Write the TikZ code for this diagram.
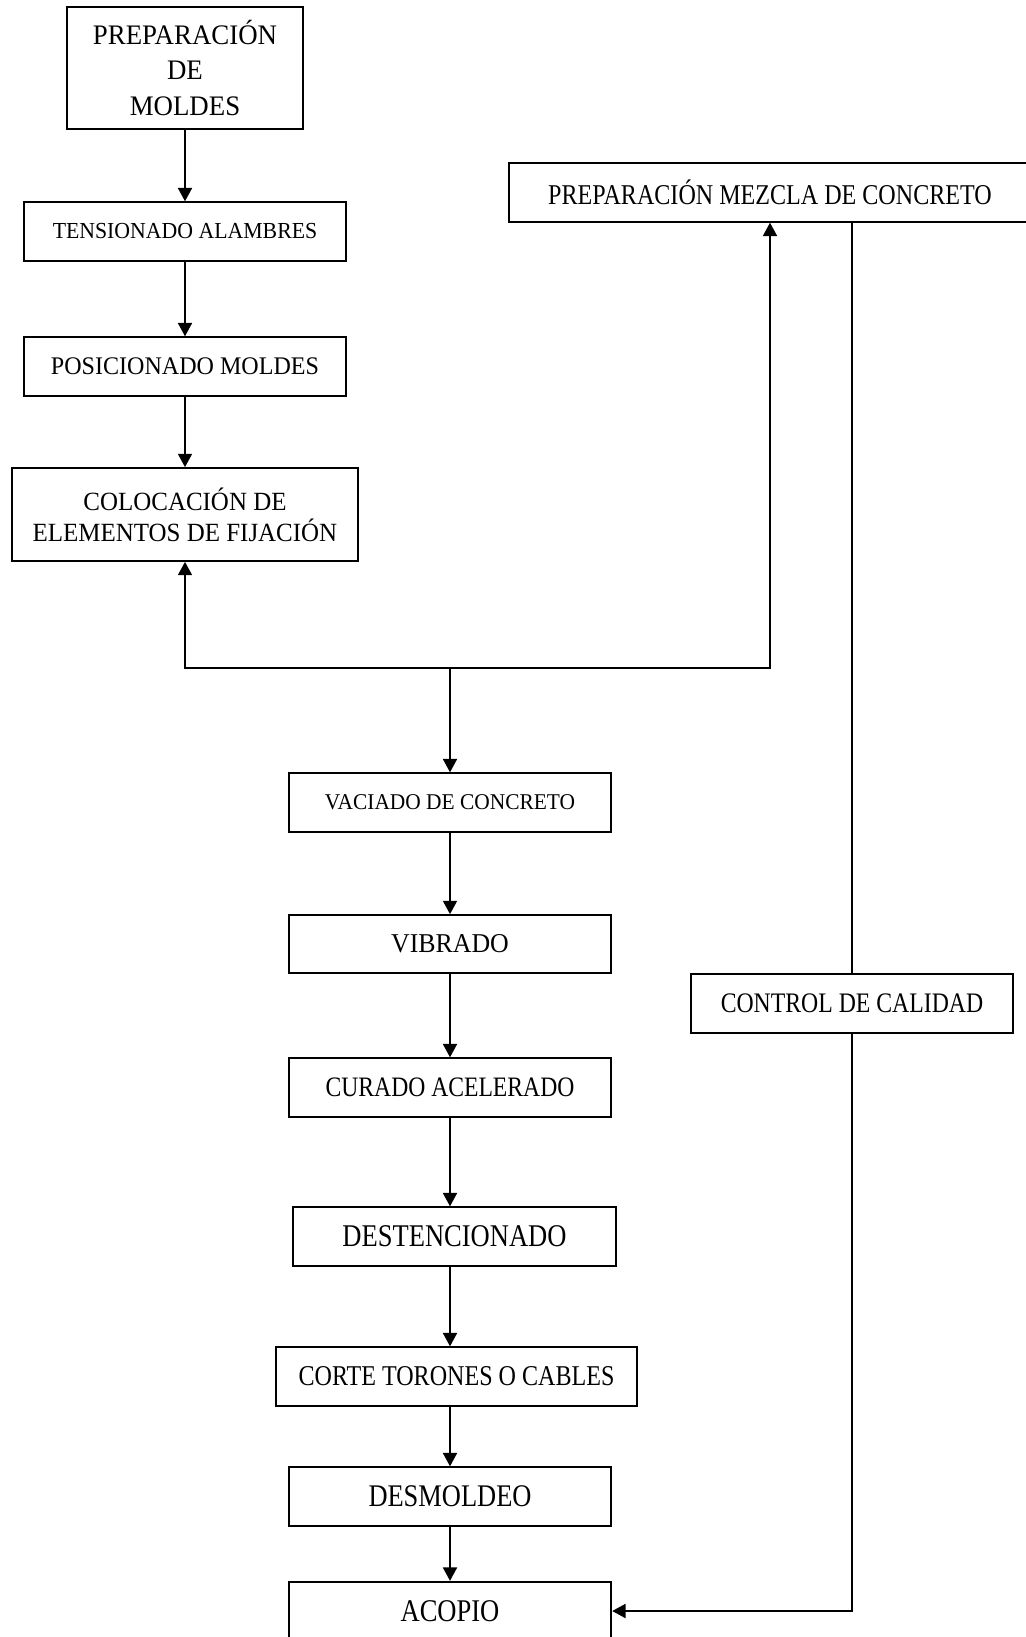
\documentclass[tikz,border=0pt]{standalone}
\usepackage{fontspec}
\setmainfont[FakeStretch=0.95]{Liberation Serif}
\newfontfamily\estrecha[FakeStretch=0.84]{Liberation Serif}
\usepackage{tikz}
\usetikzlibrary{arrows.meta,calc}

\tikzset{
  caja/.style={draw,line width=1.3pt,align=center,inner sep=0pt,
    minimum width=242pt,minimum height=44pt},
  flecha/.style={-{Triangle[width=10.5pt,length=10pt]},line width=1.3pt},
  linea/.style={line width=1.3pt}
}

\begin{document}
\begin{tikzpicture}[x=0.75pt,y=-0.75pt]
  \useasboundingbox (0,0) rectangle (1025,1637);
  % columna izquierda
  \node[caja,minimum width=177pt,minimum height=91.5pt,font=\fontsize{21.2}{26.3}\selectfont]
    (moldes) at (185,68) {PREPARACIÓN\\DE\\MOLDES};
  \node[caja,font=\fontsize{17.2}{21}\selectfont] (tension) at (185,231.5) {TENSIONADO ALAMBRES};
  \node[caja,font=\fontsize{19}{23}\selectfont] (posicion) at (185,366.5) {POSICIONADO MOLDES};
  \node[caja,minimum width=260pt,minimum height=69.75pt,font=\fontsize{19.7}{23.3}\selectfont]
    (fijacion) at (185,514.5) {COLOCACIÓN DE\\ELEMENTOS DE FIJACIÓN};
  % mezcla y control
  \node[caja,minimum width=391.5pt,font=\estrecha\fontsize{21.5}{26}\selectfont]
    (mezcla) at (770,192.5) {PREPARACIÓN MEZCLA DE CONCRETO};
  \node[caja,font=\estrecha\fontsize{21.2}{26}\selectfont] (control) at (852,1003.5) {CONTROL DE CALIDAD};
  % columna central
  \node[caja,font=\fontsize{16.9}{21}\selectfont] (vaciado) at (450,802.5) {VACIADO DE CONCRETO};
  \node[caja,minimum height=43.5pt,font=\fontsize{20.4}{25}\selectfont] (vibrado) at (450,944) {VIBRADO};
  \node[caja,font=\estrecha\fontsize{21.1}{26}\selectfont] (curado) at (450,1087.5) {CURADO ACELERADO};
  \node[caja,font=\estrecha\fontsize{23.7}{28}\selectfont] (destension) at (454.5,1236.5) {DESTENCIONADO};
  \node[caja,minimum width=270.75pt,font=\estrecha\fontsize{21.5}{26}\selectfont] (corte) at (456.5,1376.5) {CORTE TORONES O CABLES};
  \node[caja,font=\estrecha\fontsize{23.6}{28}\selectfont] (desmoldeo) at (450,1496.5) {DESMOLDEO};
  \node[caja,font=\estrecha\fontsize{23.7}{28}\selectfont] (acopio) at (450,1611) {ACOPIO};
  % flechas
  \draw[flecha] (moldes) -- (tension);
  \draw[flecha] (tension) -- (posicion);
  \draw[flecha] (posicion) -- (fijacion);
  \coordinate (nudo) at (450,668);
  \draw[flecha] (nudo) -| (fijacion.south);
  \draw[flecha] (nudo) -| (mezcla.south);
  \draw[flecha] (nudo) -- (vaciado);
  \draw[flecha] (vaciado) -- (vibrado);
  \draw[flecha] (vibrado) -- (curado);
  \draw[flecha] (curado) -- (destension.north -| curado.south);
  \draw[flecha] (destension.south -| curado.south) -- (corte.north -| curado.south);
  \draw[flecha] (corte.south -| curado.south) -- (desmoldeo);
  \draw[flecha] (desmoldeo) -- (acopio);
  \draw[linea] (control.north |- mezcla.south) -- (control.north);
  \draw[flecha] (control.south) |- (acopio.east);
\end{tikzpicture}
\end{document}
